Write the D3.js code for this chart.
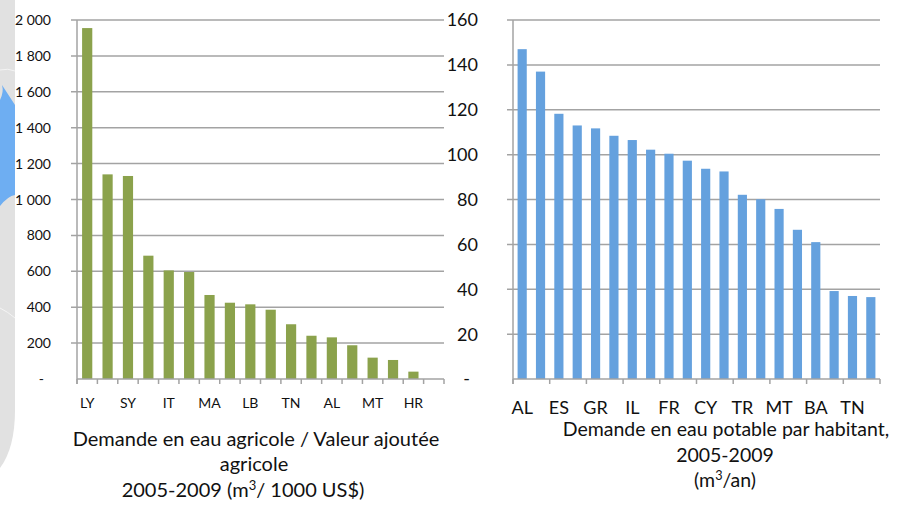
<!DOCTYPE html>
<html>
<head>
<meta charset="utf-8">
<script src="https://cdn.jsdelivr.net/npm/d3@7"></script>
<style>
  body { margin: 0; background: #fff; }
  svg { display: block; font-family: Lato, "Open Sans", sans-serif; }
</style>
</head>
<body>
<div id="chart"></div>
<script>
// left chart: agricultural water demand / agricultural value added (m3 / 1000 US$)
const agriCountries = ["LY", "EG", "SY", "TR", "IT", "ES", "MA", "DZ", "LB", "GR", "TN", "CY", "AL", "IL", "MT", "FR", "HR", "SI"];
const agriValues = [1955, 1140, 1131, 687, 605, 596, 468, 425, 416, 386, 305, 241, 232, 188, 119, 106, 41, 0];
const agriTicks = [0, 200, 400, 600, 800, 1000, 1200, 1400, 1600, 1800, 2000];

// right chart: drinking water demand per inhabitant (m3/an)
const potCountries = ["AL", "ME", "ES", "IT", "GR", "HR", "IL", "SI", "FR", "EG", "CY", "LB", "TR", "JO", "MT", "SY", "BA", "MA", "TN", "PS"];
const potValues = [147, 137, 118.2, 113, 111.7, 108.4, 106.5, 102.2, 100.4, 97.3, 93.7, 92.5, 82.1, 80.1, 75.8, 66.5, 61, 39.2, 37, 36.5];
const potTicks = [0, 20, 40, 60, 80, 100, 120, 140, 160];

const W = 906, H = 505;
const gridColor = "#a3a3a3";

const svg = d3.select("#chart").append("svg")
  .attr("width", W)
  .attr("height", H);

// decorative slide background on the far left
svg.append("path")
  .attr("d", "M0,0 H15 V410 Q15,448 0,468 Z")
  .attr("fill", "#e1e1e1");
svg.append("path")
  .attr("d", "M0,100 Q4,92 2,85 L15,105 V195 Q8,196 0,206 Z")
  .attr("fill", "#6eaef2");
svg.append("path")
  .attr("d", "M0,70 Q8,68 15,71")
  .attr("fill", "none").attr("stroke", "#f4f4f4").attr("stroke-width", 1);
svg.append("path")
  .attr("d", "M0,308 Q8,312 15,318")
  .attr("fill", "none").attr("stroke", "#f4f4f4").attr("stroke-width", 1);

const spaceFmt = d3.formatLocale({ decimal: ",", thousands: " ", grouping: [3], currency: ["", ""] }).format(",d");

function drawChart(opt) {
  const g = svg.append("g");
  const x = d3.scaleBand().domain(opt.cats).range([opt.x0, opt.x1]).paddingInner(0.5).paddingOuter(0.25);
  const xEdge = d3.scaleBand().domain(opt.cats).range([opt.x0, opt.x1]);
  const y = d3.scaleLinear().domain([0, opt.max]).range([opt.y0, opt.y1]);

  // gridlines
  g.append("g")
    .selectAll("line")
    .data(opt.yTicks.filter(d => d > 0))
    .join("line")
    .attr("x1", opt.x0 - 6)
    .attr("x2", opt.x1)
    .attr("y1", d => y(d))
    .attr("y2", d => y(d))
    .attr("stroke", gridColor)
    .attr("stroke-width", 1.5);

  // y tick labels
  g.append("g")
    .selectAll("text")
    .data(opt.yTicks)
    .join("text")
    .attr("x", d => d === 0 ? opt.labelX - opt.dashOffset : opt.labelX)
    .attr("y", d => y(d))
    .attr("dy", "0.36em")
    .attr("text-anchor", "end")
    .attr("font-size", opt.yFont)
    .attr("fill", "#111")
    .text(d => d === 0 ? "-" : opt.fmt(d));

  // bars
  g.append("g")
    .selectAll("rect")
    .data(opt.values)
    .join("rect")
    .attr("x", (d, i) => x(opt.cats[i]))
    .attr("width", x.bandwidth())
    .attr("y", d => y(d))
    .attr("height", d => opt.y0 - y(d))
    .attr("fill", opt.color);

  // axes lines
  g.append("line")
    .attr("x1", opt.x0).attr("x2", opt.x0)
    .attr("y1", opt.y1).attr("y2", opt.y0 + 5)
    .attr("stroke", gridColor).attr("stroke-width", 1.5);
  g.append("line")
    .attr("x1", opt.x0).attr("x2", opt.x1)
    .attr("y1", opt.y0).attr("y2", opt.y0)
    .attr("stroke", gridColor).attr("stroke-width", 1.5);

  // category tick marks on boundaries
  const edges = opt.cats.map(c => xEdge(c)).concat([opt.x1])
    .filter((d, i) => i % opt.tickEvery === 0);
  g.append("g")
    .selectAll("line")
    .data(edges)
    .join("line")
    .attr("x1", d => d).attr("x2", d => d)
    .attr("y1", opt.y0).attr("y2", opt.y0 + 5)
    .attr("stroke", gridColor).attr("stroke-width", 1.5);

  // category labels, every other one
  const xAxis = d3.axisBottom(x)
    .tickValues(opt.cats.filter((d, i) => i % 2 === 0))
    .tickSize(0)
    .tickPadding(0);
  const ax = g.append("g")
    .attr("transform", `translate(0,${opt.catY})`)
    .call(xAxis);
  ax.select(".domain").remove();
  ax.selectAll("text")
    .attr("dy", 0)
    .attr("y", 0)
    .attr("font-family", "Lato, sans-serif")
    .attr("font-size", opt.catFont)
    .attr("fill", "#111");

  // title lines; "³" parts drawn as raised tspans
  const lines = g.append("g")
    .selectAll("text")
    .data(opt.title)
    .join("text")
    .attr("x", d => d.x)
    .attr("y", d => d.y)
    .attr("text-anchor", "middle")
    .attr("font-size", opt.titleFont)
    .attr("fill", "#111");
  lines.each(function (d) {
    const parts = d.t.split("³");
    const sel = d3.select(this);
    parts.forEach((p, i) => {
      if (i > 0) {
        sel.append("tspan").attr("font-size", "0.65em").attr("baseline-shift", "55%").text("3");
      }
      sel.append("tspan").text(p);
    });
  });
}

drawChart({
  cats: agriCountries, values: agriValues, yTicks: agriTicks, max: 2000,
  x0: 77, x1: 444, y0: 379, y1: 20,
  color: "#8ba24c", fmt: spaceFmt, labelX: 51, dashOffset: 7, yFont: "14px",
  tickEvery: 1, catY: 408, catFont: "14px", titleFont: "20px",
  title: [
    { t: "Demande en eau agricole / Valeur ajoutée", x: 256, y: 446 },
    { t: "agricole", x: 254, y: 471 },
    { t: "2005-2009 (m³/ 1000 US$)", x: 243, y: 497 }
  ]
});

drawChart({
  cats: potCountries, values: potValues, yTicks: potTicks, max: 160,
  x0: 513, x1: 880, y0: 379, y1: 20,
  color: "#65a1de", fmt: d3.format("d"), labelX: 478, dashOffset: 8, yFont: "18px",
  tickEvery: 2, catY: 414, catFont: "18px", titleFont: "19.5px",
  title: [
    { t: "Demande en eau potable par habitant,", x: 726, y: 436 },
    { t: "2005-2009", x: 725, y: 462 },
    { t: "(m³/an)", x: 725, y: 487 }
  ]
});
</script>
</body>
</html>
